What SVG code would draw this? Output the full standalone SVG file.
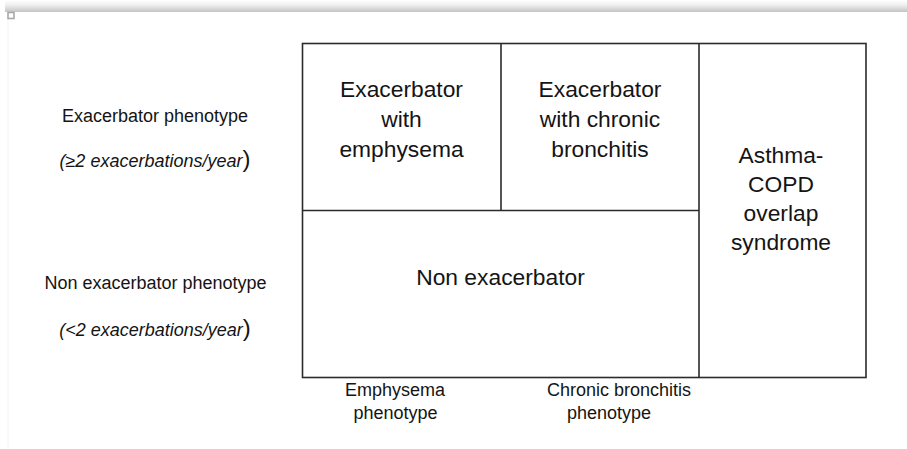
<svg xmlns="http://www.w3.org/2000/svg" width="907" height="449" viewBox="0 0 907 449">
<defs>
<linearGradient id="shadow" x1="0" y1="0" x2="0" y2="1">
<stop offset="0" stop-color="#ffffff"/>
<stop offset="0.4" stop-color="#f0f0f0"/>
<stop offset="1" stop-color="#c4c4c4"/>
</linearGradient>
<style>
.ln{stroke:#2b2b2b;stroke-width:1.6;fill:none}
.bx{font-family:"Liberation Sans",Arial,sans-serif;font-size:22.8px;fill:#141414;text-anchor:middle}
.lb{font-family:"Liberation Sans",Arial,sans-serif;font-size:18px;fill:#141414;text-anchor:middle}
.it{font-style:italic}
.rp{font-style:normal;font-size:24px}
</style>
</defs>
<rect width="907" height="449" fill="#ffffff"/>
<rect x="5" y="0" width="902" height="12" fill="url(#shadow)"/>
<line x1="8" y1="19" x2="8" y2="449" stroke="#f2f2f2" stroke-width="1"/>
<rect x="8" y="12.5" width="6" height="6" fill="#ffffff" stroke="#a8a8a8" stroke-width="1.6"/>

<g id="connectors">
<rect class="ln" x="302.5" y="43.5" width="563.5" height="334"/>
<line class="ln" x1="501" y1="43.5" x2="501" y2="210.5"/>
<line class="ln" x1="302.5" y1="210.5" x2="699" y2="210.5"/>
<line class="ln" x1="699" y1="43.5" x2="699" y2="377.5"/>
</g>

<g id="node-exacerbator-emphysema">
<text class="bx" x="401.5" y="97">Exacerbator</text>
<text class="bx" x="401.5" y="127">with</text>
<text class="bx" x="401.5" y="156.5">emphysema</text>
</g>
<g id="node-exacerbator-bronchitis">
<text class="bx" x="600" y="97">Exacerbator</text>
<text class="bx" x="600" y="127">with chronic</text>
<text class="bx" x="600" y="156.5">bronchitis</text>
</g>
<g id="node-non-exacerbator">
<text class="bx" x="500.5" y="285">Non exacerbator</text>
</g>
<g id="node-asthma-copd">
<text class="bx" x="781" y="163">Asthma-</text>
<text class="bx" x="781" y="192">COPD</text>
<text class="bx" x="781" y="221">overlap</text>
<text class="bx" x="781" y="250">syndrome</text>
</g>

<g id="label-exacerbator-phenotype">
<text class="lb" x="155" y="121.5">Exacerbator phenotype</text>
<text class="lb it" x="155" y="167">(≥2 exacerbations/year<tspan class="rp">)</tspan></text>
</g>
<g id="label-non-exacerbator-phenotype">
<text class="lb" x="155.5" y="289">Non exacerbator phenotype</text>
<text class="lb it" x="155" y="336">(&lt;2 exacerbations/year<tspan class="rp">)</tspan></text>
</g>
<g id="label-emphysema-phenotype">
<text class="lb" x="395" y="396">Emphysema</text>
<text class="lb" x="395.5" y="419">phenotype</text>
</g>
<g id="label-bronchitis-phenotype">
<text class="lb" x="619" y="396">Chronic bronchitis</text>
<text class="lb" x="609" y="419">phenotype</text>
</g>
</svg>
